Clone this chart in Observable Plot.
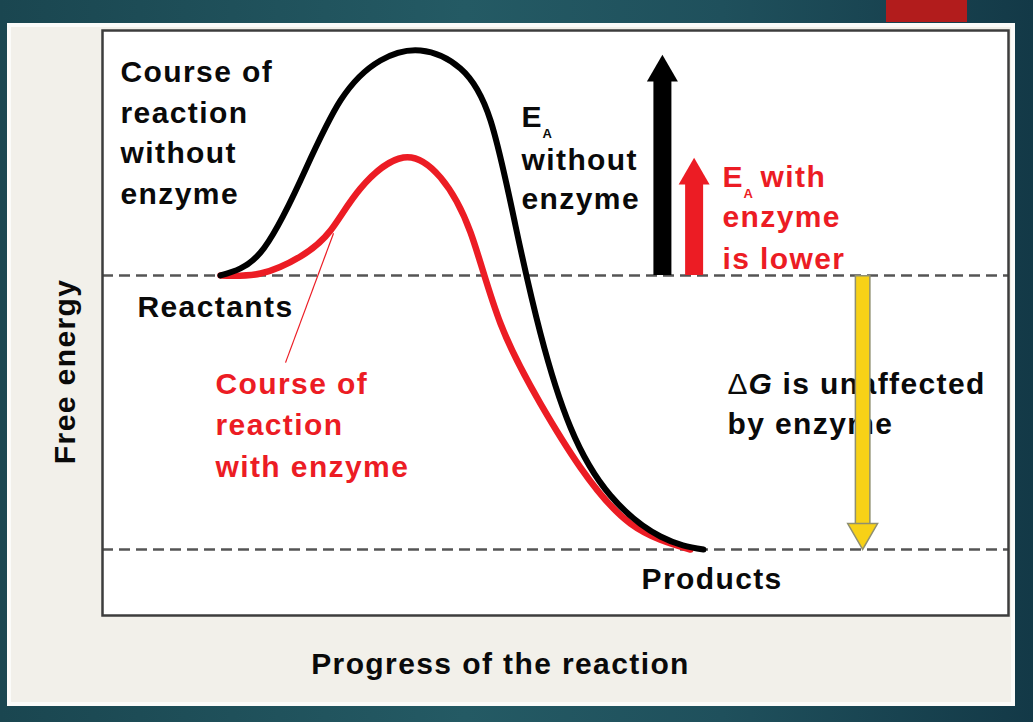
<!DOCTYPE html>
<html>
<head>
<meta charset="utf-8">
<script src="https://cdn.jsdelivr.net/npm/d3@7"></script>
<script src="https://cdn.jsdelivr.net/npm/@observablehq/plot@0.6"></script>
<style>
html, body { margin: 0; padding: 0; width: 1033px; height: 722px; overflow: hidden; }
body { position: relative; background: linear-gradient(90deg, #1a4650 0%, #245a64 45%, #1f505c 70%, #133947 100%); }
#accent { position: absolute; left: 886px; top: 0; width: 81px; height: 22px; background: #b21c1c; }
#panel { position: absolute; left: 7px; top: 23px; width: 1000px; height: 675px; background: #f2f0ea; border: 4px solid #fbfbf9; }
#chart { position: absolute; left: 0; top: 0; }
</style>
</head>
<body>
<div id="accent"></div>
<div id="panel"></div>
<div id="chart"></div>
<script>
// Reaction progress (0–100) and free energy (reactants = 50, products = 0)
const progressWithout = [13.02, 17.44, 21.85, 26.27, 30.68, 35.10, 39.51, 42.83, 45.58, 48.34, 51.66, 56.07, 61.59, 66.34];
const energyWithout   = [50.0, 54.20, 67.34, 81.93, 89.23, 91.06, 87.77, 78.28, 59.12, 39.42, 22.26, 9.85, 2.37, 0.0];

const progressWith = [13.02, 17.44, 21.85, 25.17, 28.48, 33.22, 37.31, 40.62, 43.93, 48.34, 52.76, 58.28, 64.90];
const energyWith   = [50.0, 50.36, 53.47, 58.21, 65.88, 71.53, 67.88, 57.85, 41.24, 26.64, 14.96, 4.74, 0.0];

const levels = [50, 0];                 // reactants, products
const levelNames = ["Reactants", "Products"];

const eaNames = ["without enzyme", "with enzyme"];
const eaProgress = [61.8, 65.3];
const eaTop = [90.3, 71.5];

const dgProgress = 83.9;

const leaderProgress = [25.5, 20.2];
const leaderEnergy = [57.7, 34.1];

const axisTitles = ["Progress of the reaction", "Free energy"];

// label anchors in data units
const blackLabel = [{t: "Course of\nreaction\nwithout\nenzyme", x: 1.99, y: 89.1}];
const redLabel = [{t: "Course of\nreaction\nwith enzyme", x: 12.47, y: 32.35}];
const levelLabels = [{t: levelNames[0], x: 3.86, y: 46.4}, {t: levelNames[1], x: 59.49, y: -3.23}];
const eaBlackE = [{t: "E", x: 46.25, y: 80.9}];
const eaBlackSub = [{t: "A", x: 48.57, y: 76.7}];
const eaBlackRest = [{t: "without\nenzyme", x: 46.25, y: 73.2}];
const eaRedE = [{t: "E", x: 68.43, y: 69.95}];
const eaRedSub = [{t: "A", x: 70.75, y: 65.9}];
const eaRedWith = [{t: "with", x: 72.63, y: 69.95}];
const eaRedRest = [{t: "enzyme\nis lower", x: 68.43, y: 62.65}];
const dgDelta = [{t: "Δ", x: 68.98, y: 32.35}];
const dgG = [{t: "G", x: 71.3, y: 32.35}];
const dgRest = [{t: "is unaffected", x: 75.06, y: 32.35}, {t: "by enzyme", x: 68.98, y: 25.05}];
const xTitle = [{t: axisTitles[0], x: 43.93, y: -18.74}];
const yTitle = [{t: axisTitles[1], x: -4.08, y: 32.5}];

const without = progressWithout.map((x, i) => ({x, y: energyWithout[i]}));
const withEnz = progressWith.map((x, i) => ({x, y: energyWith[i]}));
const ea = eaProgress.map((x, i) => ({name: eaNames[i], x, top: eaTop[i], base: levels[0]}));
const dg = [{x: dgProgress, top: levels[0], base: levels[1]}];
const leader = [{x1: leaderProgress[0], y1: leaderEnergy[0], x2: leaderProgress[1], y2: leaderEnergy[1]}];

const RED = "#ec1c24";
// Plot places the first line of "top"-anchored text at 0.71 × lineHeight em; compensate so cap tops sit on y
const txt = (data, o = {}) => {
  const fs = o.fontSize || 30, lh = o.lineHeight || 1;
  return Plot.text(data, Object.assign({
    x: "x", y: "y", text: "t", textAnchor: "start", lineAnchor: "top",
    fontSize: 30, fontWeight: "bold", fill: "#0a0a0a", lineHeight: 1,
    dy: -0.71 * (lh - 1) * fs
  }, o));
};

const chart = Plot.plot({
  width: 1033,
  height: 722,
  marginLeft: 102,
  marginRight: 25,
  marginTop: 30,
  marginBottom: 107,
  x: {domain: [0, 100], axis: null},
  y: {domain: [-12.04, 94.7], axis: null},
  style: "background: transparent; font-family: 'Liberation Sans', Arial, Helvetica, sans-serif; letter-spacing: 1.4px;",
  marks: [
    Plot.frame({fill: "white"}),
    Plot.ruleY(levels, {stroke: "#555", strokeWidth: 2.5, strokeDasharray: "11,6"}),
    Plot.line(withEnz, {x: "x", y: "y", stroke: RED, strokeWidth: 6.5, curve: "natural"}),
    Plot.line(without, {x: "x", y: "y", stroke: "#000", strokeWidth: 6, curve: "natural"}),
    Plot.link(leader, {x1: "x1", y1: "y1", x2: "x2", y2: "y2", stroke: RED, strokeWidth: 1.2}),
    // EA arrows
    Plot.ruleX([ea[0]], {x: "x", y1: "top", y2: "base", stroke: "#000", strokeWidth: 18, insetTop: 25}),
    Plot.dot([ea[0]], {x: "x", y: "top", symbol: "triangle", r: 11.5, fill: "#000", dy: 17.9}),
    Plot.ruleX([ea[1]], {x: "x", y1: "top", y2: "base", stroke: RED, strokeWidth: 18, insetTop: 25}),
    Plot.dot([ea[1]], {x: "x", y: "top", symbol: "triangle", r: 11.5, fill: RED, dy: 17.9}),
    // texts
    txt(blackLabel, {lineHeight: 1.345}),
    txt(redLabel, {fill: RED, lineHeight: 1.39}),
    txt(levelLabels),
    txt(eaBlackE),
    txt(eaBlackSub, {fontSize: 13}),
    txt(eaBlackRest, {lineHeight: 1.32}),
    txt(eaRedE, {fill: RED}),
    txt(eaRedSub, {fill: RED, fontSize: 13}),
    txt(eaRedWith, {fill: RED}),
    txt(eaRedRest, {fill: RED, lineHeight: 1.37}),
    txt(dgDelta, {fontWeight: "normal"}),
    txt(dgG, {fontStyle: "italic"}),
    txt(dgRest),
    txt(xTitle, {textAnchor: "middle"}),
    txt(yTitle, {textAnchor: "middle", lineAnchor: "middle", rotate: -90}),
    // delta G arrow
    Plot.ruleX(dg, {x: "x", y1: "top", y2: "base", stroke: "#8f8f70", strokeWidth: 16, insetBottom: 24}),
    Plot.ruleX(dg, {x: "x", y1: "top", y2: "base", stroke: "#f7d117", strokeWidth: 13, insetTop: 1.5, insetBottom: 24}),
    Plot.dot(dg, {x: "x", y: "base", symbol: "triangle", r: 11.1, rotate: 180, fill: "#f7d117", stroke: "#8f8f70", strokeWidth: 1.5, dy: -17.3}),
    Plot.frame({stroke: "#3d3d3d", strokeWidth: 2.5})
  ]
});
document.getElementById("chart").appendChild(chart);
</script>
</body>
</html>
